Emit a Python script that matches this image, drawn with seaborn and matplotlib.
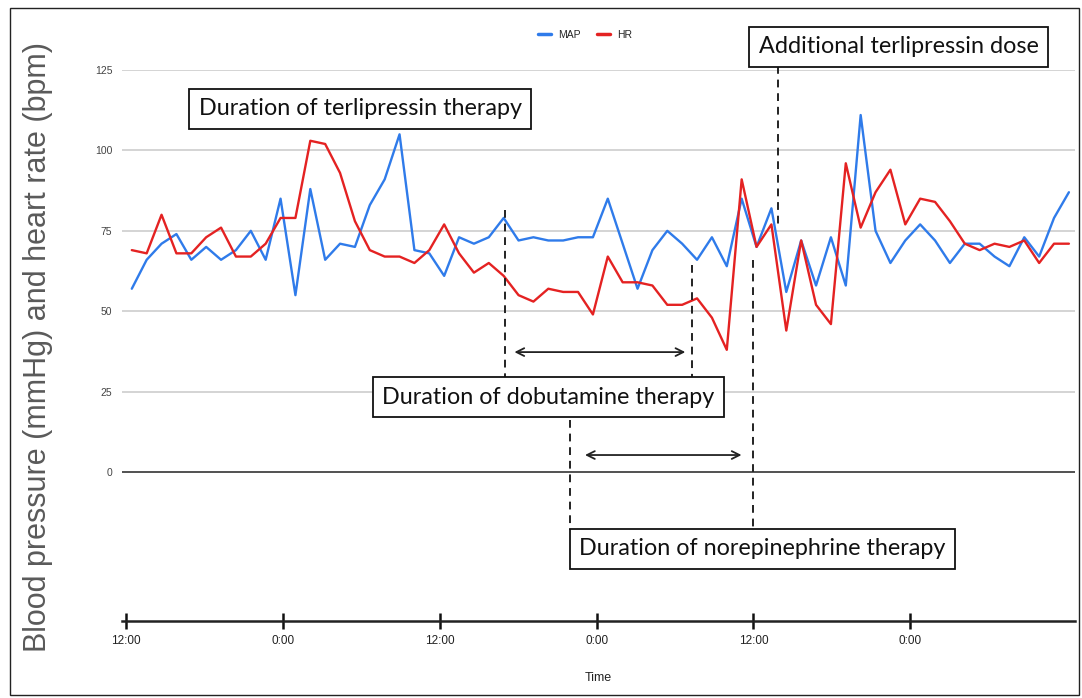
import numpy as np
import pandas as pd
import seaborn as sns
import matplotlib.pyplot as plt
from matplotlib.patches import Rectangle

# Readings (one sample roughly every 1.14 h)
map_vals = [57, 66, 71, 74, 66, 70, 66, 69, 75, 66, 85, 55, 88,
            66, 71, 70, 83, 91, 105, 69, 68, 61, 73, 71, 73,
            79, 72, 73, 72, 72, 73, 73, 85, 71, 57, 69, 75, 71,
            66, 73, 64, 85, 70, 82, 56, 72, 58, 73, 58,
            111, 75, 65, 72, 77, 72, 65, 71, 71, 67, 64, 73, 67, 79, 87]
hr_vals = [69, 68, 80, 68, 68, 73, 76, 67, 67, 71, 79, 79, 103,
           102, 93, 78, 69, 67, 67, 65, 69, 77, 68, 62, 65,
           61, 55, 53, 57, 56, 56, 49, 67, 59, 59, 58, 52, 52,
           54, 48, 38, 91, 70, 77, 44, 72, 52, 46, 96,
           76, 87, 94, 77, 85, 84, 78, 71, 69, 71, 70, 72, 65, 71, 71]
first_sample_h = 0.44
sample_step_h = 1.138
tick_hours = [0, 12, 24, 36, 48, 60]
tick_labels = ["12:00", "0:00", "12:00", "0:00", "12:00", "0:00"]
y_ticks = [0, 25, 50, 75, 100, 125]

hours = first_sample_h + sample_step_h * np.arange(len(map_vals))
df = pd.DataFrame({"Time": hours, "MAP": map_vals, "HR": hr_vals})
long_df = df.melt(id_vars="Time", var_name="series", value_name="value")

sns.set_style("white")
plt.rcParams['font.family'] = ['Liberation Sans', 'DejaVu Sans']

fig = plt.figure(figsize=(10.82, 6.98), dpi=100)
ax = fig.add_axes([122 / 1082, 77 / 698, 953 / 1082, 551 / 698])

# gridlines first so they sit under the lines
for v in y_ticks[1:]:
    ax.axhline(v, color="#d4d4d4", lw=1.4, zorder=0)
ax.axhline(0, color="#333333", lw=1.2, zorder=0)

sns.lineplot(data=long_df, x="Time", y="value", hue="series",
             palette={"MAP": "#2f7bea", "HR": "#e42222"},
             linewidth=1.7, ax=ax, legend=True)

ax.set_xlim(-0.31, 72.6)
ax.set_ylim(-46.3, 125)
ax.set_yticks(y_ticks)
ax.set_yticklabels([str(v) for v in y_ticks], fontsize=7.5, color="#444444")
ax.tick_params(axis="y", length=0, pad=7)
ax.set_xticks(tick_hours)
ax.set_xticklabels(tick_labels, fontsize=8.5, color="#222222")
ax.tick_params(axis="x", bottom=True, length=12, width=1.8, color="#111111",
               direction="inout", pad=4)
for s in ["top", "right", "left"]:
    ax.spines[s].set_visible(False)
ax.spines["bottom"].set_linewidth(1.8)
ax.spines["bottom"].set_color("#222222")
ax.set_xlabel("Time", fontsize=9, color="#222222", labelpad=18)
ax.set_ylabel("")

leg = ax.legend(handles=ax.get_legend_handles_labels()[0],
                labels=["MAP", "HR"], loc="center", ncol=2, frameon=False,
                bbox_to_anchor=(0.541, 0.95), bbox_transform=fig.transFigure,
                fontsize=7.5, handlelength=1.2, handletextpad=0.7, columnspacing=1.6)
for h in leg.legend_handles:
    h.set_linewidth(2.5)

fig.text(38 / 1082, 0.503, "Blood pressure (mmHg) and heart rate (bpm)",
         rotation=90, ha="center", va="center", fontsize=22, color="#5a5a5a")

# therapy annotations
dash = dict(color="#222222", lw=1.4, ls=(0, (4, 3)), clip_on=False)
ax.plot([29.0, 29.0], [81.5, 29.2], **dash)
ax.plot([43.3, 43.3], [64.4, 29.2], **dash)
ax.plot([34.0, 34.0], [16.2, -18.0], **dash)
ax.plot([48.0, 48.0], [65.9, -18.0], **dash)
ax.plot([49.9, 49.9], [126.2, 76.2], **dash)

arrow = dict(arrowstyle="<->", color="#222222", lw=1.3, mutation_scale=14)
ax.annotate("", xy=(43.0, 37.3), xytext=(29.5, 37.3), arrowprops=arrow)
ax.annotate("", xy=(47.3, 5.3), xytext=(34.9, 5.3), arrowprops=arrow)

box = dict(boxstyle="square,pad=0.4", facecolor="white", edgecolor="#111111", lw=1.3)
notes = [("Duration of terlipressin therapy", 17.9, 112.9),
         ("Additional terlipressin dose", 59.1, 132.2),
         ("Duration of dobutamine therapy", 32.3, 23.3),
         ("Duration of norepinephrine therapy", 48.7, -23.9)]
for txt, x, y in notes:
    ax.text(x, y, txt, ha="center", va="center", fontsize=16.8,
            family=["Lato", "DejaVu Sans"], color="#111111",
            bbox=box, clip_on=False, zorder=5)

fig.add_artist(Rectangle((10 / 1082, 3 / 698), 1069 / 1082, 687 / 698,
                         transform=fig.transFigure, fill=False,
                         edgecolor="#222222", lw=1))

fig.savefig("out.png", dpi=100)
